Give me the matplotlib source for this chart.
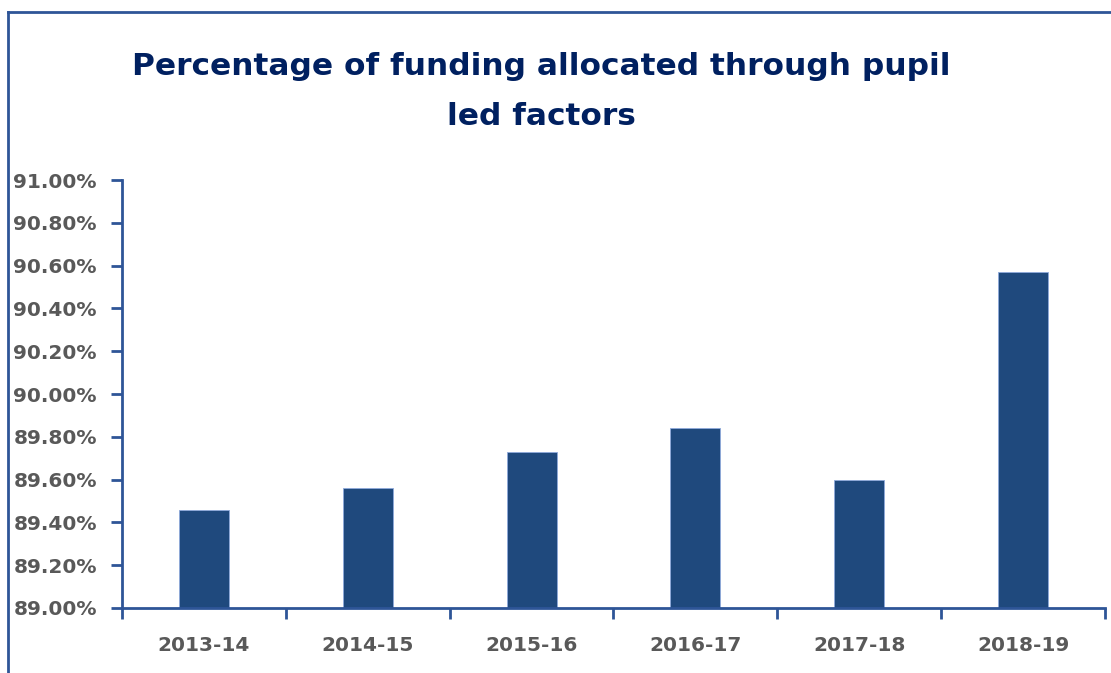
import matplotlib.pyplot as plt
from matplotlib.lines import Line2D
from matplotlib.ticker import FuncFormatter, FixedLocator

years = ["2013-14", "2014-15", "2015-16", "2016-17", "2017-18", "2018-19"]
pct = [89.46, 89.56, 89.73, 89.84, 89.60, 90.57]
y_ticks = [89.0, 89.2, 89.4, 89.6, 89.8, 90.0, 90.2, 90.4, 90.6, 90.8, 91.0]

bar_color = "#1F497D"
axis_color = "#2E5597"
label_color = "#595959"
title_color = "#002060"

fig = plt.figure(figsize=(11.11, 6.73), dpi=100)
ax = fig.add_axes([0.1098, 0.0966, 0.8848, 0.6359])

x = list(range(len(years)))
ax.bar(x, [v - 89.0 for v in pct], bottom=89.0, width=0.305,
       color=bar_color, edgecolor="#8EA9DB", linewidth=0.6)

ax.set_xlim(-0.5, len(years) - 0.5)
ax.set_ylim(89.0, 91.0)
ax.set_yticks(y_ticks)
ax.yaxis.set_major_formatter(FuncFormatter(lambda v, p: f"{v:.2f}%"))

ax.set_xticks(x)
ax.set_xticklabels(years)
ax.xaxis.set_minor_locator(FixedLocator([i + 0.5 for i in range(-1, len(years))]))
ax.tick_params(axis="x", which="major", length=0, pad=20)
ax.tick_params(axis="x", which="minor", length=8, width=2, color=axis_color, direction="out")
ax.tick_params(axis="y", length=8, width=2, color=axis_color, direction="out", pad=10)

for lab in ax.get_xticklabels() + ax.get_yticklabels():
    lab.set_fontsize(14.5)
    lab.set_fontweight("bold")
    lab.set_color(label_color)

for s in ["top", "right"]:
    ax.spines[s].set_visible(False)
for s in ["left", "bottom"]:
    ax.spines[s].set_color(axis_color)
    ax.spines[s].set_linewidth(2)

fig.text(0.487, 0.864, "Percentage of funding allocated through pupil\nled factors",
         ha="center", va="center", fontsize=22.5, fontweight="bold",
         color=title_color, linespacing=1.95)

# outer chart frame (left and top edges visible)
fig.add_artist(Line2D([8 / 1111, 8 / 1111], [0, 1 - 12 / 673],
                      transform=fig.transFigure, color=axis_color, linewidth=2))
fig.add_artist(Line2D([8 / 1111, 1], [1 - 12 / 673, 1 - 12 / 673],
                      transform=fig.transFigure, color=axis_color, linewidth=2))

fig.savefig("out.png", dpi=100)
